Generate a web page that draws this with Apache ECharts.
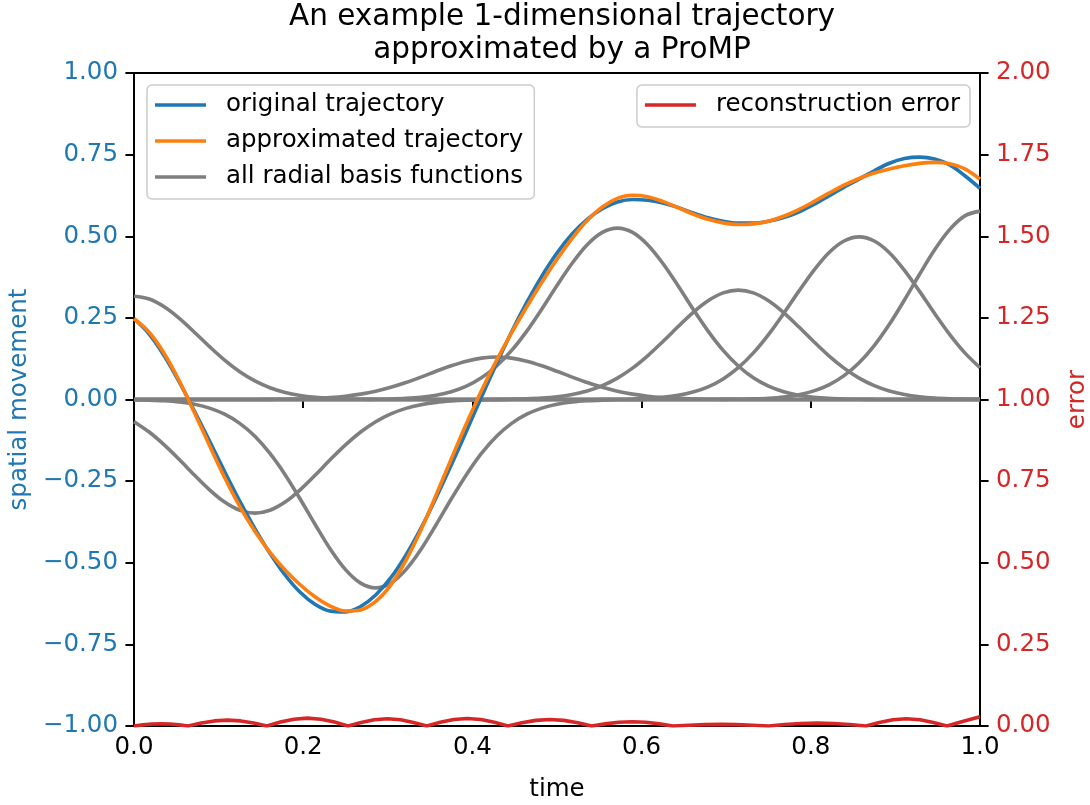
<!DOCTYPE html>
<html>
<head>
<meta charset="utf-8">
<script src="https://cdn.jsdelivr.net/npm/echarts@6/dist/echarts.min.js"></script>
<style>
  html, body { margin: 0; padding: 0; background: #ffffff; }
  #chart { width: 1090px; height: 805px; }
</style>
</head>
<body>
<div id="chart"></div>
<script>
// Sample times (step 1/56, so every basis centre k/7 falls on a sample)
const timeGrid = [0, 0.0179, 0.0357, 0.0536, 0.0714, 0.0893, 0.1071, 0.125, 0.1429, 0.1607,
  0.1786, 0.1964, 0.2143, 0.2321, 0.25, 0.2679, 0.2857, 0.3036, 0.3214, 0.3393,
  0.3571, 0.375, 0.3929, 0.4107, 0.4286, 0.4464, 0.4643, 0.4821, 0.5, 0.5179,
  0.5357, 0.5536, 0.5714, 0.5893, 0.6071, 0.625, 0.6429, 0.6607, 0.6786, 0.6964,
  0.7143, 0.7321, 0.75, 0.7679, 0.7857, 0.8036, 0.8214, 0.8393, 0.8571, 0.875,
  0.8929, 0.9107, 0.9286, 0.9464, 0.9643, 0.9821, 1];

// Weighted radial basis functions, one per centre (0, 1/7, ..., 1)
const rbf1 = [0.316, 0.3076, 0.2839, 0.2483, 0.2059, 0.1618, 0.1205, 0.085, 0.0569, 0.0361,
  0.0217, 0.0124, 0.0067, 0.0034, 0.0017, 0.0008, 0.0003, 0.0001, 0, 0,
  0, 0, 0, 0, 0, 0, 0, 0, 0, 0,
  0, 0, 0, 0, 0, 0, 0, 0, 0, 0,
  0, 0, 0, 0, 0, 0, 0, 0, 0, 0,
  0, 0, 0, 0, 0, 0, 0];
const rbf2 = [-0.068, -0.0997, -0.1389, -0.1839, -0.2314, -0.2766, -0.3142, -0.3392, -0.348, -0.3392,
  -0.3142, -0.2766, -0.2314, -0.1839, -0.1389, -0.0997, -0.068, -0.0441, -0.0271, -0.0159,
  -0.0088, -0.0047, -0.0023, -0.0011, -0.0005, -0.0002, -0.0001, 0, 0, 0,
  0, 0, 0, 0, 0, 0, 0, 0, 0, 0,
  0, 0, 0, 0, 0, 0, 0, 0, 0, 0,
  0, 0, 0, 0, 0, 0, 0];
const rbf3 = [-0.0008, -0.0019, -0.0039, -0.0077, -0.0146, -0.0263, -0.045, -0.0731, -0.1127, -0.1653,
  -0.2303, -0.3049, -0.3836, -0.4586, -0.521, -0.5625, -0.577, -0.5625, -0.521, -0.4586,
  -0.3836, -0.3049, -0.2303, -0.1653, -0.1127, -0.0731, -0.045, -0.0263, -0.0146, -0.0077,
  -0.0039, -0.0019, -0.0008, -0.0004, -0.0001, 0, 0, 0, 0, 0,
  0, 0, 0, 0, 0, 0, 0, 0, 0, 0,
  0, 0, 0, 0, 0, 0, 0];
const rbf4 = [0, 0, 0, 0, 0, 0, 0, 0.0001, 0.0002, 0.0004,
  0.0009, 0.0017, 0.0033, 0.0059, 0.0101, 0.0165, 0.0254, 0.0372, 0.0519, 0.0687,
  0.0864, 0.1033, 0.1174, 0.1267, 0.13, 0.1267, 0.1174, 0.1033, 0.0864, 0.0687,
  0.0519, 0.0372, 0.0254, 0.0165, 0.0101, 0.0059, 0.0033, 0.0017, 0.0009, 0.0004,
  0.0002, 0.0001, 0, 0, 0, 0, 0, 0, 0, 0,
  0, 0, 0, 0, 0, 0, 0];
const rbf5 = [0, 0, 0, 0, 0, 0, 0, 0, 0, 0,
  0, 0, 0, 0.0001, 0.0001, 0.0003, 0.0008, 0.0017, 0.0035, 0.007,
  0.0133, 0.024, 0.041, 0.0665, 0.1026, 0.1504, 0.2096, 0.2774, 0.3491, 0.4173,
  0.4741, 0.5118, 0.525, 0.5118, 0.4741, 0.4173, 0.3491, 0.2774, 0.2096, 0.1504,
  0.1026, 0.0665, 0.041, 0.024, 0.0133, 0.007, 0.0035, 0.0017, 0.0008, 0.0003,
  0.0001, 0.0001, 0, 0, 0, 0, 0];
const rbf6 = [0, 0, 0, 0, 0, 0, 0, 0, 0, 0,
  0, 0, 0, 0, 0, 0, 0, 0, 0, 0,
  0, 0, 0.0001, 0.0002, 0.0005, 0.0011, 0.0023, 0.0045, 0.0085, 0.0153,
  0.0261, 0.0424, 0.0655, 0.096, 0.1337, 0.177, 0.2227, 0.2663, 0.3025, 0.3266,
  0.335, 0.3266, 0.3025, 0.2663, 0.2227, 0.177, 0.1337, 0.096, 0.0655, 0.0424,
  0.0261, 0.0153, 0.0085, 0.0045, 0.0023, 0.0011, 0.0005];
const rbf7 = [0, 0, 0, 0, 0, 0, 0, 0, 0, 0,
  0, 0, 0, 0, 0, 0, 0, 0, 0, 0,
  0, 0, 0, 0, 0, 0, 0, 0, 0, 0.0001,
  0.0001, 0.0003, 0.0007, 0.0016, 0.0034, 0.0067, 0.0126, 0.0227, 0.0388, 0.0631,
  0.0973, 0.1427, 0.1988, 0.2632, 0.3311, 0.3958, 0.4497, 0.4855, 0.498, 0.4855,
  0.4497, 0.3958, 0.3311, 0.2632, 0.1988, 0.1427, 0.0973];
const rbf8 = [0, 0, 0, 0, 0, 0, 0, 0, 0, 0,
  0, 0, 0, 0, 0, 0, 0, 0, 0, 0,
  0, 0, 0, 0, 0, 0, 0, 0, 0, 0,
  0, 0, 0, 0, 0, 0, 0, 0.0001, 0.0001, 0.0004,
  0.0008, 0.0019, 0.0039, 0.0077, 0.0146, 0.0263, 0.045, 0.0731, 0.1127, 0.1653,
  0.2303, 0.3049, 0.3836, 0.4586, 0.521, 0.5625, 0.577];

// Demonstrated trajectory and its ProMP reconstruction
const originalTrajectory = [0.2472, 0.2006, 0.1342, 0.0533, -0.0356, -0.1275, -0.2208, -0.3113, -0.3953, -0.4709,
  -0.5375, -0.5905, -0.6279, -0.6482, -0.6504, -0.634, -0.5989, -0.5458, -0.4765, -0.3939,
  -0.3009, -0.201, -0.0971, 0.0074, 0.1101, 0.2077, 0.2972, 0.378, 0.4487, 0.5071,
  0.5516, 0.5847, 0.6049, 0.6125, 0.6104, 0.6018, 0.5885, 0.5713, 0.5565, 0.5459,
  0.5401, 0.5402, 0.5462, 0.557, 0.5742, 0.5972, 0.6235, 0.6505, 0.6751, 0.7006,
  0.7236, 0.738, 0.7424, 0.7364, 0.7184, 0.6852, 0.6468];
const approximatedTrajectory = [0.2472, 0.206, 0.1411, 0.0567, -0.0401, -0.1411, -0.2387, -0.3272, -0.4036, -0.468,
  -0.5219, -0.5674, -0.605, -0.6331, -0.648, -0.6446, -0.6185, -0.5676, -0.4927, -0.3988,
  -0.2927, -0.1823, -0.0741, 0.027, 0.1199, 0.2049, 0.2842, 0.3589, 0.4294, 0.4937,
  0.5483, 0.5898, 0.6158, 0.6255, 0.6212, 0.6069, 0.5877, 0.5682, 0.5519, 0.5409,
  0.5359, 0.5378, 0.5462, 0.5612, 0.5817, 0.6061, 0.6319, 0.6563, 0.677, 0.6935,
  0.7062, 0.7161, 0.7232, 0.7263, 0.7221, 0.7063, 0.6748];

// Absolute reconstruction error (right axis)
const errorTime = [0, 0.0107, 0.0213, 0.032, 0.0427, 0.0533, 0.064,
  0.0795, 0.095, 0.1105, 0.126, 0.1415, 0.157,
  0.173, 0.189, 0.205, 0.221, 0.237, 0.253,
  0.2685, 0.284, 0.2995, 0.315, 0.3305, 0.346,
  0.362, 0.378, 0.394, 0.41, 0.426, 0.442,
  0.4585, 0.475, 0.4915, 0.508, 0.5245, 0.541,
  0.557, 0.573, 0.589, 0.605, 0.621, 0.637,
  0.656, 0.675, 0.694, 0.712, 0.731, 0.75,
  0.769, 0.788, 0.808, 0.827, 0.846, 0.865,
  0.881, 0.897, 0.913, 0.929, 0.945, 0.961,
  0.974, 0.987, 1.0];
const errorValues = [0, 0.0035, 0.0061, 0.007, 0.0061, 0.0035, 0,
  0.009, 0.0156, 0.018, 0.0156, 0.009, 0,
  0.012, 0.0208, 0.024, 0.0208, 0.012, 0,
  0.011, 0.0191, 0.022, 0.0191, 0.011, 0,
  0.0115, 0.0199, 0.023, 0.0199, 0.0115, 0,
  0.01, 0.0173, 0.02, 0.0173, 0.01, 0,
  0.0065, 0.0113, 0.013, 0.0113, 0.0065, 0,
  0.0025, 0.0043, 0.005, 0.0043, 0.0025, 0,
  0.0045, 0.0078, 0.009, 0.0078, 0.0045, 0,
  0.011, 0.019, 0.022, 0.019, 0.011, 0,
  0.01, 0.019, 0.028];

const basisSets = [rbf1, rbf2, rbf3, rbf4, rbf5, rbf6, rbf7, rbf8];

const BLUE = '#1f77b4', ORANGE = '#ff7f0e', GRAY = '#7f7f7f', RED = '#d62728';
const FONT = 'DejaVu Sans';
const FS = 24.5;
const LW = 3.6;
const SPINE = 1.95;
const SMOOTH = 0.33;

function pairs(xs, ys) { return xs.map((x, i) => [x, ys[i]]); }
function fmtSigned(v, d) { return (v < 0 ? '\u2212' : '') + Math.abs(v).toFixed(d); }

const series = [];
basisSets.forEach(vals => {
  series.push({
    name: 'all radial basis functions', type: 'line', xAxisIndex: 0, yAxisIndex: 0,
    data: pairs(timeGrid, vals), smooth: SMOOTH, showSymbol: false, symbol: 'none',
    lineStyle: { color: GRAY, width: LW }, itemStyle: { color: GRAY }, z: 2
  });
});
series.push({
  name: 'original trajectory', type: 'line', xAxisIndex: 0, yAxisIndex: 0,
  data: pairs(timeGrid, originalTrajectory), smooth: SMOOTH, showSymbol: false, symbol: 'none',
  lineStyle: { color: BLUE, width: LW }, itemStyle: { color: BLUE }, z: 3
});
series.push({
  name: 'approximated trajectory', type: 'line', xAxisIndex: 0, yAxisIndex: 0,
  data: pairs(timeGrid, approximatedTrajectory), smooth: SMOOTH, showSymbol: false, symbol: 'none',
  lineStyle: { color: ORANGE, width: LW }, itemStyle: { color: ORANGE }, z: 4
});
series.push({
  name: 'reconstruction error', type: 'line', xAxisIndex: 0, yAxisIndex: 1,
  data: pairs(errorTime, errorValues), smooth: false, showSymbol: false, symbol: 'none',
  lineStyle: { color: RED, width: LW }, itemStyle: { color: RED }, z: 5
});

const legendCommon = {
  orient: 'vertical',
  icon: 'rect',
  itemWidth: 51,
  itemHeight: 3.6,
  itemGap: 10,
  backgroundColor: 'rgba(255,255,255,0.8)',
  borderColor: '#cccccc',
  borderWidth: 1.5,
  borderRadius: 5,
  textStyle: { fontFamily: FONT, fontSize: FS, color: '#000', lineHeight: 26, padding: [0, 0, 0, 15] },
  selectedMode: false
};

const axisLineStyle = { show: true, lineStyle: { color: '#000', width: SPINE } };
const axisTickStyle = { show: true, inside: false, length: 8.6, lineStyle: { color: '#000', width: SPINE } };

const chart = echarts.init(document.getElementById('chart'), null, { renderer: 'canvas' });
chart.setOption({
  animation: false,
  backgroundColor: '#ffffff',
  title: {
    text: 'An example 1-dimensional trajectory\napproximated by a ProMP',
    left: 557, top: -4, textAlign: 'center',
    textStyle: { fontFamily: FONT, fontSize: 29.5, fontWeight: 'normal', color: '#000', lineHeight: 33 }
  },
  grid: {
    left: 134, right: 110, top: 73, bottom: 79,
    outerBoundsMode: 'none', containLabel: false,
    show: true, borderColor: '#000', borderWidth: SPINE, backgroundColor: 'transparent'
  },
  legend: [
    Object.assign({}, legendCommon, {
      data: ['original trajectory', 'approximated trajectory', 'all radial basis functions'],
      left: 147, top: 85, padding: [7, 11, 9, 8]
    }),
    Object.assign({}, legendCommon, {
      data: ['reconstruction error'],
      right: 120, top: 85, padding: [7, 10, 9, 8]
    })
  ],
  xAxis: {
    type: 'value', min: 0, max: 1, interval: 0.2,
    name: 'time', nameLocation: 'middle', nameGap: 51,
    nameTextStyle: { fontFamily: FONT, fontSize: FS, color: '#000' },
    axisLine: axisLineStyle,
    axisTick: axisTickStyle,
    axisLabel: { margin: 9, fontFamily: FONT, fontSize: FS, color: '#000', formatter: v => v.toFixed(1) },
    splitLine: { show: false }
  },
  yAxis: [
    {
      type: 'value', min: -1, max: 1, interval: 0.25, position: 'left',
      name: 'spatial movement', nameLocation: 'middle', nameRotate: 90, nameGap: 101,
      nameTextStyle: { fontFamily: FONT, fontSize: FS, color: BLUE },
      axisLine: axisLineStyle,
      axisTick: axisTickStyle,
      axisLabel: { margin: 16, fontFamily: FONT, fontSize: FS, color: BLUE, formatter: v => fmtSigned(v, 2) },
      splitLine: { show: false }
    },
    {
      type: 'value', min: 0, max: 2, interval: 0.25, position: 'right',
      name: 'error', nameLocation: 'middle', nameRotate: 90, nameGap: 85,
      nameTextStyle: { fontFamily: FONT, fontSize: FS, color: RED },
      axisLine: axisLineStyle,
      axisTick: axisTickStyle,
      axisLabel: { margin: 16, fontFamily: FONT, fontSize: FS, color: RED, formatter: v => v.toFixed(2) },
      splitLine: { show: false }
    }
  ],
  series: series
});
</script>
</body>
</html>
